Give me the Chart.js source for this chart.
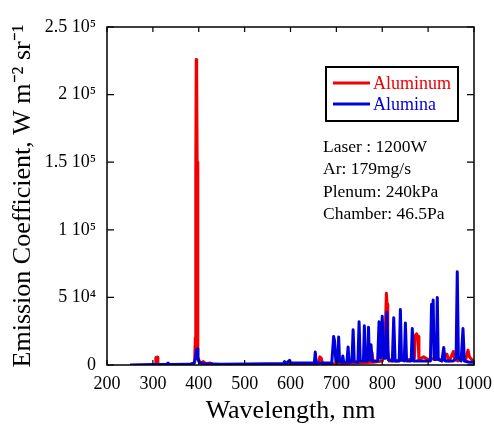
<!DOCTYPE html>
<html>
<head>
<meta charset="utf-8">
<script src="https://cdn.jsdelivr.net/npm/chart.js@4.4.1/dist/chart.umd.min.js"></script>
<style>
  html, body { margin: 0; padding: 0; background: #ffffff; }
  #wrap { width: 494px; height: 424px; }
</style>
</head>
<body>
<div id="wrap"><canvas id="c" width="494" height="424"></canvas></div>
<script>
// ---- Data ----
const seriesNames = ['Aluminum', 'Alumina'];
const xTickValues = [200, 300, 400, 500, 600, 700, 800, 900, 1000];
const yTickLabels = ['0', '5 10\u2074', '1 10\u2075', '1.5 10\u2075', '2 10\u2075', '2.5 10\u2075'];
const annotationLines = ['Laser : 1200W', 'Ar: 179mg/s', 'Plenum: 240kPa', 'Chamber: 46.5Pa'];

const aluminumWavelength = [300, 305, 306.5, 308, 309.5, 311, 316, 330, 360, 388, 391, 392.5, 393.5, 394.5, 395.5, 396.5, 398, 402, 405, 410, 415, 425, 430, 470, 500, 520, 540, 560, 580, 600, 640, 660, 664, 667, 670, 700, 740, 776, 778, 780, 800, 805, 807, 809, 810.5, 812, 815, 830, 860, 870, 872, 875, 878, 880, 890, 900, 920, 930, 941, 945, 950, 955, 958, 965, 975, 982, 987, 990, 995, 1000];
const aluminumValue =      [0, 500, 5500, 5000, 5800, 400, 0, 300, 0, 500, 2500, 20000, 140000, 226000, 215000, 150000, 6000, 2000, 1500, 2500, 1000, 1500, 500, 0, -1000, -1500, -500, -1500, 0, 500, 500, 1000, 6000, 5000, 1000, 1000, 1500, 2000, 9000, 2000, 3000, 8000, 30000, 53000, 45000, 10000, 3000, 3000, 4000, 5000, 22000, 23000, 21000, 4000, 6000, 4000, 5000, 3000, 8000, 3000, 6000, 10000, 4000, 3000, 5000, 4000, 11000, 6000, 4000, 3000];

const aluminaWavelength = [250, 300, 330, 333, 336, 380, 390, 393, 395, 396.5, 398, 401, 410, 450, 500, 550, 585, 587, 590, 598, 600, 640, 652, 654, 656, 690, 694, 696, 699, 703, 705, 707, 712, 714, 716, 723, 725.5, 728, 734, 736.5, 739, 747, 749.5, 752, 759, 761, 763, 768, 770, 772, 775.5, 778, 790, 793, 796, 800, 803, 807, 810, 813, 822, 825, 828, 837, 839.5, 842, 848, 850.5, 853, 863, 865.5, 868, 890, 905, 907.5, 909.5, 911, 913, 918, 920, 922, 930, 934, 937, 955, 961, 963.5, 966, 972, 976, 979, 990, 1000];
const aluminaValue =      [0, 300, 500, 1500, 300, 500, 1500, 5000, 11500, 12000, 5000, 2000, 1000, 500, 800, 1000, 1000, 2500, 1000, 3500, 1500, 1500, 1500, 9600, 1500, 1500, 21000, 18000, 2500, 2000, 20700, 2500, 2000, 6600, 2000, 2000, 13300, 2000, 2500, 26000, 2500, 2000, 32000, 3000, 3000, 29000, 3000, 3000, 28000, 4000, 15000, 3000, 3000, 32000, 5000, 36000, 5000, 5000, 39000, 4000, 3000, 35000, 3000, 3000, 41000, 4000, 3000, 31000, 3000, 3000, 27000, 3000, 3000, 3000, 45000, 30000, 48000, 4000, 4000, 50000, 4000, 3000, 13000, 3000, 3000, 5000, 69000, 5000, 3000, 27000, 3000, 2000, 2000];

const seriesColors = ['#f00000', '#0000dd'];

// ---- Build datasets ----
function zip(xs, ys) { return xs.map((x, i) => ({ x: x, y: ys[i] })); }

const SERIF = "'Liberation Serif', 'Times New Roman', serif";

const framePlugin = {
  id: 'framePlugin',
  afterDraw(chart) {
    const ctx = chart.ctx;
    const a = chart.chartArea;
    const xs = chart.scales.x, ys = chart.scales.y;
    ctx.save();
    ctx.strokeStyle = '#000';
    ctx.lineWidth = 1.5;
    ctx.strokeRect(a.left, a.top, a.right - a.left, a.bottom - a.top);
    ctx.lineWidth = 1.2;
    // inward ticks
    xs.ticks.forEach(t => {
      const px = xs.getPixelForValue(t.value);
      ctx.beginPath();
      ctx.moveTo(px, a.bottom); ctx.lineTo(px, a.bottom - 5);
      ctx.moveTo(px, a.top); ctx.lineTo(px, a.top + 5);
      ctx.stroke();
    });
    ys.ticks.forEach(t => {
      const py = ys.getPixelForValue(t.value);
      ctx.beginPath();
      ctx.moveTo(a.left, py); ctx.lineTo(a.left + 7, py);
      ctx.moveTo(a.right, py); ctx.lineTo(a.right - 7, py);
      ctx.stroke();
    });

    // legend box
    const lx = a.left + 219, ly = a.top + 40, lw = 132, lh = 54;
    ctx.lineWidth = 2;
    ctx.strokeRect(lx, ly, lw, lh);
    ctx.font = '18px ' + SERIF;
    ctx.textBaseline = 'middle';
    ctx.textAlign = 'left';
    const rows = [ly + 16, ly + 37];
    seriesNames.forEach((name, i) => {
      ctx.strokeStyle = seriesColors[i];
      ctx.lineWidth = 3;
      ctx.beginPath();
      ctx.moveTo(lx + 7, rows[i]); ctx.lineTo(lx + 44, rows[i]);
      ctx.stroke();
      ctx.fillStyle = seriesColors[i];
      ctx.fillText(name, lx + 47, rows[i] + 1);
    });

    // annotation
    ctx.fillStyle = '#000';
    ctx.font = '17.5px ' + SERIF;
    ctx.textBaseline = 'alphabetic';
    annotationLines.forEach((s, i) => {
      ctx.fillText(s, a.left + 216, a.top + 125 + i * 22.3);
    });
    ctx.restore();
  }
};

new Chart(document.getElementById('c'), {
  type: 'line',
  data: {
    datasets: [
      {
        label: seriesNames[0],
        data: zip(aluminumWavelength, aluminumValue),
        borderColor: seriesColors[0],
        backgroundColor: seriesColors[0],
        borderWidth: 3,
        pointRadius: 0,
        tension: 0,
        borderJoinStyle: 'round',
        fill: false,
        order: 2
      },
      {
        label: seriesNames[1],
        data: zip(aluminaWavelength, aluminaValue),
        borderColor: seriesColors[1],
        backgroundColor: seriesColors[1],
        borderWidth: 3,
        pointRadius: 0,
        tension: 0,
        borderJoinStyle: 'round',
        fill: false,
        order: 1
      }
    ]
  },
  options: {
    responsive: false,
    animation: false,
    devicePixelRatio: 1,
    layout: { padding: { top: 27, right: 20, left: 0, bottom: 0 } },
    plugins: { legend: { display: false }, tooltip: { enabled: false } },
    scales: {
      x: {
        type: 'linear',
        min: 200, max: 1000,
        afterBuildTicks(scale) { scale.ticks = xTickValues.map(v => ({ value: v })); },
        ticks: {
          stepSize: 100, autoSkip: false, maxRotation: 0,
          color: '#000', padding: 0,
          font: { family: SERIF, size: 18 },
          callback: (v) => String(v)
        },
        grid: { display: false },
        border: { display: false },
        title: {
          display: true, text: 'Wavelength, nm', color: '#000',
          font: { family: SERIF, size: 26 }, padding: { top: 0, bottom: -3 }
        },
        afterFit(scale) { scale.height = 59; }
      },
      y: {
        min: 0, max: 250000,
        ticks: {
          stepSize: 50000, color: '#000', padding: 3,
          font: { family: SERIF, size: 18 },
          callback: (v, i) => yTickLabels[i]
        },
        grid: { display: false },
        border: { display: false },
        title: {
          display: true, text: 'Emission Coefficient, W m\u207B\u00B2 sr\u207B\u00B9', color: '#000',
          font: { family: SERIF, size: 26 }, padding: { top: 8, bottom: 0 }
        },
        afterFit(scale) { scale.width = 107; }
      }
    }
  },
  plugins: [framePlugin]
});
</script>
</body>
</html>
